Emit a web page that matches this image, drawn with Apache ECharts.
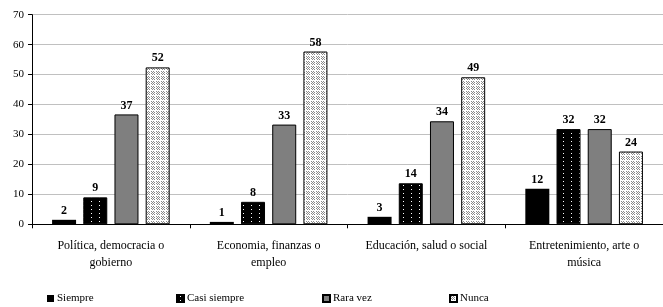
<!DOCTYPE html>
<html>
<head>
<meta charset="utf-8">
<script src="https://cdn.jsdelivr.net/npm/echarts@6/dist/echarts.min.js"></script>
<style>
  html, body { margin: 0; padding: 0; background: #fff; }
  #canvas { width: 663px; height: 307px; }
</style>
</head>
<body>
<div id="canvas"></div>
<script>
var categories = ['Política, democracia o\ngobierno', 'Economia, finanzas o\nempleo', 'Educación, salud o social', 'Entretenimiento, arte o\nmúsica'];
var seriesNames = ['Siempre', 'Casi siempre', 'Rara vez', 'Nunca'];
var siempre = [1.5, 0.8, 2.5, 11.9];
var casiSiempre = [9.0, 7.5, 13.7, 31.8];
var raraVez = [36.7, 33.3, 34.4, 31.8];
var nunca = [52.4, 57.7, 49.1, 24.3];
var yTicks = [0, 70, 10];

// fill patterns
function dotPattern() {
	var c = document.createElement('canvas');
	c.width = 8; c.height = 4;
	var g = c.getContext('2d');
	g.fillStyle = '#000'; g.fillRect(0, 0, 8, 4);
	g.fillStyle = '#fff'; g.fillRect(3, 1, 1, 1);
	return c;
}
function checkPattern() {
	var c = document.createElement('canvas');
	c.width = 5; c.height = 5;
	var g = c.getContext('2d');
	g.fillStyle = '#fff'; g.fillRect(0, 0, 5, 5);
	g.fillStyle = '#8a8a8a';
	for (var x = 1; x < 5; x++) {
		for (var y = 1; y < 5; y++) {
			if ((x + y) % 2 == 0) g.fillRect(x, y, 1, 1);
		}
	}
	return c;
}

var fills = ['#000', { image: dotPattern(), repeat: 'repeat' }, '#7f7f7f', { image: checkPattern(), repeat: 'repeat' }];
var values = [siempre, casiSiempre, raraVez, nunca];
var legendLeft = [47, 176, 322, 449];

var series = [];
var legends = [];
for (var i = 0; i < seriesNames.length; i++) {
	series.push({
		name: seriesNames[i],
		type: 'bar',
		data: values[i],
		barWidth: 24,
		barGap: '30%',
		itemStyle: { color: fills[i], borderColor: '#000', borderWidth: i == 0 ? 0 : 1 },
		label: {
			show: true,
			position: 'top',
			distance: 3,
			fontFamily: 'Liberation Serif',
			fontWeight: 'bold',
			fontSize: 12,
			color: '#000',
			formatter: function(p) { return Math.round(p.value); }
		}
	});
	legends.push({
		data: [seriesNames[i]],
		left: legendLeft[i],
		bottom: 3,
		padding: 0,
		itemWidth: 7,
		itemHeight: 7,
		itemGap: 0,
		icon: 'rect',
		textStyle: { fontFamily: 'Liberation Serif', fontSize: 11, color: '#000', padding: [0, 0, 0, -2] }
	});
}

var myChart = echarts.init(document.getElementById('canvas'));
var option = {
	animation: false,
	textStyle: { fontFamily: 'Liberation Serif' },
	grid: { left: 32, right: -5, top: 14.7, bottom: 82.7, containLabel: false },
	legend: legends,
	xAxis: {
		type: 'category',
		data: categories,
		axisLine: { lineStyle: { color: '#000' } },
		axisTick: { show: true, length: 4, lineStyle: { color: '#000' } },
		axisLabel: { fontFamily: 'Liberation Serif', fontSize: 12, color: '#000', margin: 13, lineHeight: 17, interval: 0 }
	},
	yAxis: {
		type: 'value',
		min: yTicks[0],
		max: yTicks[1],
		interval: yTicks[2],
		axisLine: { show: true, lineStyle: { color: '#000' } },
		axisTick: { show: true, length: 4, lineStyle: { color: '#000' } },
		axisLabel: { fontFamily: 'Liberation Serif', fontSize: 11, color: '#000', margin: 8 },
		splitLine: { lineStyle: { color: '#c0c0c0' } }
	},
	series: series
};
myChart.setOption(option);
</script>
</body>
</html>
